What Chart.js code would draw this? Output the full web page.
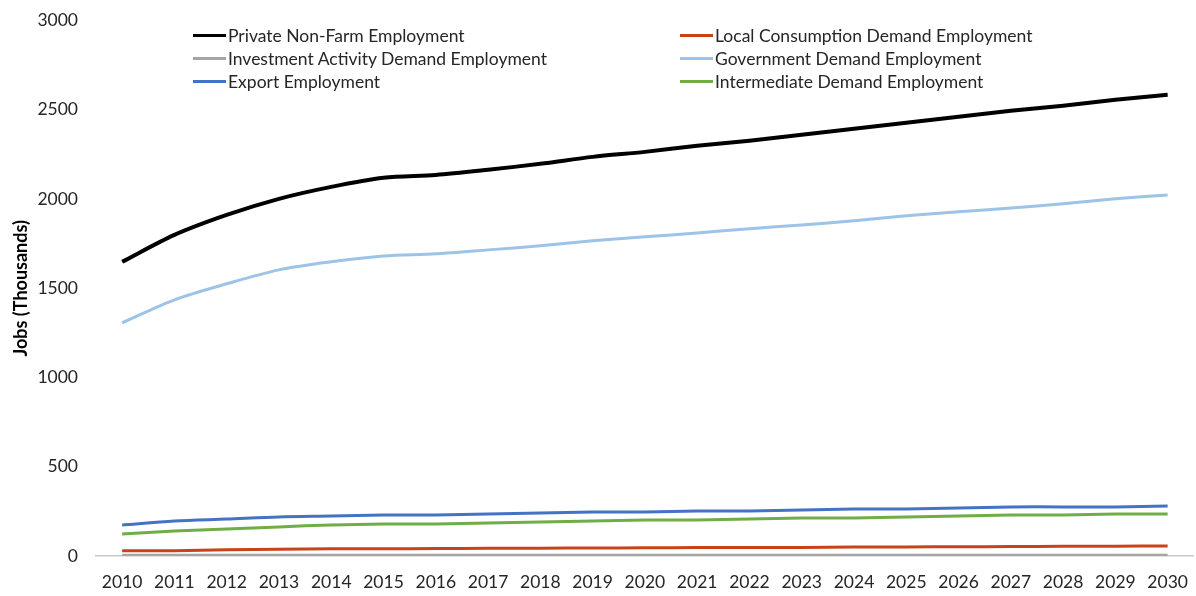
<!DOCTYPE html>
<html>
<head>
<meta charset="utf-8">
<script src="https://cdn.jsdelivr.net/npm/chart.js@4.4.1/dist/chart.umd.min.js"></script>
<style>
  html, body { margin: 0; padding: 0; background: #fff; }
  #wrap { position: relative; width: 1196px; height: 596px; }
  #legend { position: absolute; left: 193px; top: 24px; display: grid;
    grid-template-columns: 487px 420px; row-gap: 1px;
    font-family: Lato, 'Open Sans', sans-serif; font-size: 17.5px; color: #262626; }
  .item { display: flex; align-items: center; height: 22px; white-space: nowrap; }
  .swatch { width: 33px; height: 3px; margin-right: 2px; }
</style>
</head>
<body>
<div id="wrap">
  <canvas id="c" width="1196" height="596"></canvas>
  <div id="legend"></div>
</div>
<script>
// ─── Data ────────────────────────────────────────────
var years = ['2010','2011','2012','2013','2014','2015','2016','2017','2018','2019','2020',
             '2021','2022','2023','2024','2025','2026','2027','2028','2029','2030'];

var privateNonFarm = [1648, 1799, 1911, 2001, 2068, 2119, 2135, 2164, 2197, 2236, 2264,
                      2298, 2326, 2360, 2393, 2427, 2461, 2494, 2522, 2556, 2584];
var localConsumption = [30, 30, 35, 38, 40, 40, 42, 43, 44, 45, 46,
                        47, 48, 48, 50, 51, 52, 53, 54, 55, 56];
var investmentActivity = [4, 4, 4, 4, 4, 4, 4, 4, 4, 4, 4,
                          4, 4, 4, 4, 4, 4, 4, 4, 4, 4];
var government = [1306, 1435, 1525, 1603, 1648, 1681, 1693, 1715, 1738, 1766, 1788,
                  1810, 1833, 1855, 1878, 1906, 1928, 1950, 1973, 2001, 2023];
var exportEmp = [174, 196, 207, 219, 224, 230, 230, 235, 241, 247, 247,
                 252, 252, 258, 263, 263, 269, 275, 275, 275, 280];
var intermediate = [123, 140, 151, 163, 174, 179, 179, 185, 191, 196, 202,
                    202, 207, 213, 213, 219, 224, 230, 230, 235, 235];

var yTicks = [0, 500, 1000, 1500, 2000, 2500, 3000];

// ─── Chart ───────────────────────────────────────────
var font = 'Lato, "Open Sans", sans-serif';

function line(label, data, color, width) {
  return { label: label, data: data, borderColor: color, backgroundColor: color,
           borderWidth: width, pointRadius: 0, tension: 0.3, fill: false };
}

var chart = new Chart(document.getElementById('c').getContext('2d'), {
  type: 'line',
  data: {
    labels: years,
    datasets: [
      line('Private Non-Farm Employment', privateNonFarm, '#000000', 4),
      line('Local Consumption Demand Employment', localConsumption, '#C9431A', 3),
      line('Investment Activity Demand Employment', investmentActivity, '#A5A5A5', 3),
      line('Government Demand Employment', government, '#9DC3E6', 3),
      line('Export Employment', exportEmp, '#4472C4', 3),
      line('Intermediate Demand Employment', intermediate, '#70AD47', 3)
    ]
  },
  options: {
    responsive: false, animation: false,
    layout: { padding: { top: 13, right: 2, bottom: 0, left: 0 } },
    plugins: { legend: { display: false }, tooltip: { enabled: false } },
    scales: {
      x: {
        offset: true,
        grid: { display: false },
        border: { display: true, color: '#C8C8C8', width: 1.5 },
        ticks: { color: '#262626', font: { family: font, size: 17.5 }, padding: 8, maxRotation: 0, autoSkip: false },
        afterFit: function(s) { s.height = 40; }
      },
      y: {
        min: 0, max: 3000,
        afterBuildTicks: function(s) { s.ticks = yTicks.map(function(v) { return { value: v }; }); },
        grid: { display: false },
        border: { display: false },
        ticks: { color: '#262626', font: { family: font, size: 17.5 }, padding: 10,
                 callback: function(v) { return String(v); } },
        title: { display: true, text: 'Jobs (Thousands)', color: '#000',
                 font: { family: font, size: 18, weight: 'bold' }, padding: { top: 10, bottom: 0 } },
        afterFit: function(s) { s.width = 96; }
      }
    }
  }
});

// ─── Legend (two columns, built from the datasets) ───
var legend = document.getElementById('legend');
chart.data.datasets.forEach(function(ds) {
  var item = document.createElement('div');
  item.className = 'item';
  item.innerHTML = '<span class="swatch" style="background:' + ds.borderColor + '"></span>' + ds.label;
  legend.appendChild(item);
});
</script>
</body>
</html>
